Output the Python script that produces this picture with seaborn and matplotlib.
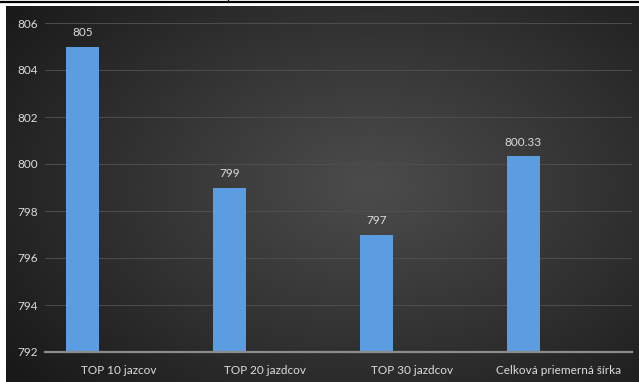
import numpy as np
import pandas as pd
import matplotlib
matplotlib.use("Agg")
import matplotlib.pyplot as plt
import seaborn as sns

categories = ["TOP 10 jazcov", "TOP 20 jazdcov", "TOP 30 jazdcov", "Celková priemerná šírka"]
values = [805, 799, 797, 800.33]
value_labels = ["805", "799", "797", "800.33"]
series_names = ["Séria 1", "Séria 2", "Séria 3"]
y_ticks = [792, 794, 796, 798, 800, 802, 804, 806]

sns.set_theme(style="dark")
plt.rcParams['font.family'] = ['Lato', 'DejaVu Sans']

W, H = 639, 382
fig = plt.figure(figsize=(W / 100, H / 100), dpi=100)
fig.patch.set_facecolor("white")

# background panel with radial dark gradient
bg = fig.add_axes([6 / W, 0, 1 - 6 / W, 1 - 6 / H])
bg.set_axis_off()
yy, xx = np.mgrid[-1:1:200j, -1:1:300j]
r = np.sqrt(((xx - 0.15) * 0.9) ** 2 + ((yy + 0.05) * 0.8) ** 2)
grad = np.clip(1 - r / 1.3, 0, 1)
bg.imshow(grad, cmap=matplotlib.colors.LinearSegmentedColormap.from_list(
    "g", ["#191919", "#333333", "#4c4c4c"]), aspect="auto", extent=[0, 1, 0, 1],
    vmin=0, vmax=1)
bg.set_xlim(0, 1); bg.set_ylim(0, 1)

# top scan border
fig.add_artist(matplotlib.lines.Line2D([0, 1], [1 - 2.2 / H, 1 - 2.2 / H],
                                       transform=fig.transFigure, color="black", lw=1.6))
fig.add_artist(matplotlib.lines.Line2D([228 / W, 228 / W], [1, 1 - 2 / H],
                                       transform=fig.transFigure, color="black", lw=1.0))

ax = fig.add_axes([45 / W, 1 - 352 / H, (632 - 45) / W, (352 - 23) / H])
ax.set_facecolor("none")

df = pd.DataFrame({"cat": categories, "val": values, "series": [series_names[0]] * 4})
sns.barplot(data=df, x="cat", y="val", hue="series", hue_order=series_names,
            order=categories, palette=["#5b9de0", "#5b9de0", "#5b9de0"],
            width=0.726, gap=0.074, dodge=True, legend=False, ax=ax,
            saturation=1, zorder=3, linewidth=0, edgecolor="none",
            err_kws={"linewidth": 0})

ax.set_ylim(792, 806)
ax.set_yticks(y_ticks)
ax.set_xlim(-0.5, 3.5)
ax.set_xlabel("")
ax.set_ylabel("")
for s in ["top", "right", "left"]:
    ax.spines[s].set_visible(False)
ax.spines["bottom"].set_color("#8c8c8c")
ax.spines["bottom"].set_linewidth(1.6)
ax.spines["bottom"].set_zorder(4)
ax.grid(axis="y", color="#4e4e4e", linewidth=0.7, zorder=0)
ax.grid(axis="x", visible=False)
ax.tick_params(axis="both", colors="#d9d9d9", labelsize=8.5, length=0)
ax.tick_params(axis="y", pad=5)
ax.tick_params(axis="x", pad=9)
for lbl in ax.get_yticklabels() + ax.get_xticklabels():
    lbl.set_color("#dcdcdc")

for c in ax.containers:
    if len(c) and not np.all(np.isnan([p.get_height() for p in c])):
        ax.bar_label(c, labels=value_labels, padding=6, color="#dcdcdc", fontsize=8.5)

fig.savefig("out.png", dpi=100)
